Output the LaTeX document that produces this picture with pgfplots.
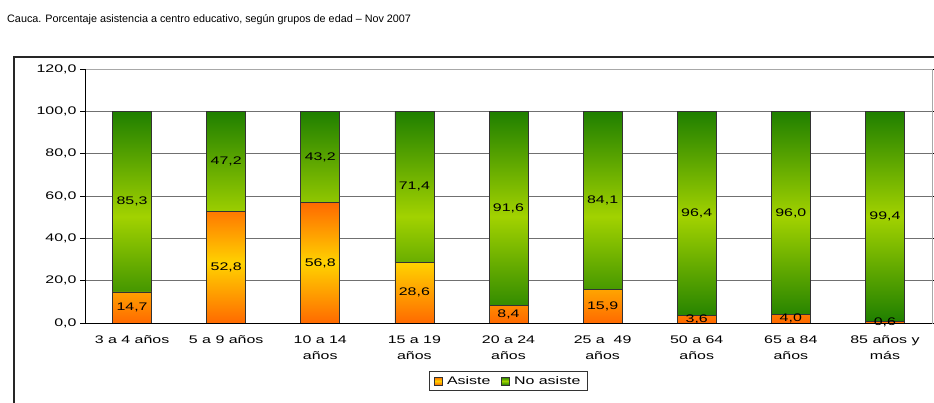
\documentclass[border=0pt]{standalone}
\usepackage{fontspec}
\setmainfont{Liberation Sans}
\newfontfamily\chartfont[FakeStretch=1.45]{Liberation Sans}
\usepackage{pgfplots}
\pgfplotsset{compat=1.18}
\definecolor{orA}{HTML}{FF6A00}
\definecolor{yeA}{HTML}{FFD200}
\definecolor{grD}{HTML}{1F7F00}
\definecolor{grL}{HTML}{A2D200}
\definecolor{gridc}{HTML}{707070}
\definecolor{framec}{HTML}{A8A8A8}
\begin{document}
\begin{tikzpicture}
\useasboundingbox (0,0) rectangle (934pt,402pt);
\node[anchor=west, inner sep=0pt, font=\fontsize{10.8}{13}\selectfont] at (7pt,382pt) {Cauca. Porcentaje asistencia a centro educativo, según grupos de edad – Nov 2007};
\draw[line width=1.6pt, black!85] (14pt,-5pt) -- (14pt,345pt) -- (945pt,345pt);
\begin{axis}[
  at={(85pt,79pt)}, anchor=south west,
  scale only axis, width=847pt, height=254pt,
  ybar stacked, bar width=39pt,
  xmin=-0.5, xmax=8.5, ymin=0, ymax=120,
  xtick={0,...,8},
  xticklabels={{3 a 4 años},{5 a 9 años},{10 a 14\\años},{15 a 19\\años},{20 a 24\\años},{25 a\ \ 49\\años},{50 a 64\\años},{65 a 84\\años},{85 años y\\más}},
  x tick style={draw=none},
  extra x ticks={0.5,1.5,...,7.5},
  extra x tick labels={},
  extra x tick style={tick style={draw=black, line width=0.8pt}, major tick length=4pt, tick align=outside},
  ytick={0,20,...,120},
  y tick style={draw=black, line width=0.8pt},
  major tick length=5pt,
  tick align=outside,
  ymajorgrids,
  grid style={gridc, line width=0.8pt},
  axis line style={framec, line width=0.8pt},
  /pgf/number format/assume math mode=true,
  yticklabel style={/pgf/number format/.cd, fixed, fixed zerofill, precision=1, use comma},
  tick label style={font=\chartfont\fontsize{11}{16}\selectfont, text=black},
  xticklabel style={align=center, yshift=-4pt},
  point meta=explicit,
  nodes near coords={\pgfmathprintnumber[fixed,fixed zerofill,precision=1,use comma]{\pgfplotspointmeta}},
  every node near coord/.append style={anchor=center, font=\chartfont\fontsize{11}{13}\selectfont, text=black, inner sep=0pt},
  legend columns=2,
  legend style={at={(0.5,0)}, anchor=north, yshift=-48pt, draw=black!80, line width=0.6pt,
    font=\chartfont\fontsize{11}{13}\selectfont, inner xsep=5pt, inner ysep=3pt,
    /tikz/every even column/.append style={column sep=9pt},
    /tikz/every odd column/.append style={column sep=2pt}},
  after end axis/.code={\draw[black, line width=0.8pt] (rel axis cs:0,1) -- (rel axis cs:0,0) -- (rel axis cs:1,0);},
]
\addplot[draw=black!80, line width=0.6pt, top color=orA, bottom color=orA, middle color=yeA,
  legend image code/.code={\draw[draw=black!80, line width=0.6pt, top color=orA, bottom color=orA, middle color=yeA] (0pt,-4pt) rectangle (8pt,4pt);}]
  coordinates {(0,14.7) [14.7] (1,52.8) [52.8] (2,56.8) [56.8] (3,28.6) [28.6] (4,8.4) [8.4] (5,15.9) [15.9] (6,3.6) [3.6] (7,4.0) [4.0] (8,0.6) [0.6]};
\addlegendentry{Asiste}
\addplot[draw=black!80, line width=0.6pt, top color=grD, bottom color=grD, middle color=grL,
  legend image code/.code={\draw[draw=black!80, line width=0.6pt, top color=grD, bottom color=grD, middle color=grL] (0pt,-4pt) rectangle (8pt,4pt);}]
  coordinates {(0,85.3) [85.3] (1,47.2) [47.2] (2,43.2) [43.2] (3,71.4) [71.4] (4,91.6) [91.6] (5,84.1) [84.1] (6,96.4) [96.4] (7,96.0) [96.0] (8,99.4) [99.4]};
\addlegendentry{No asiste}
\end{axis}
\end{tikzpicture}
\end{document}
